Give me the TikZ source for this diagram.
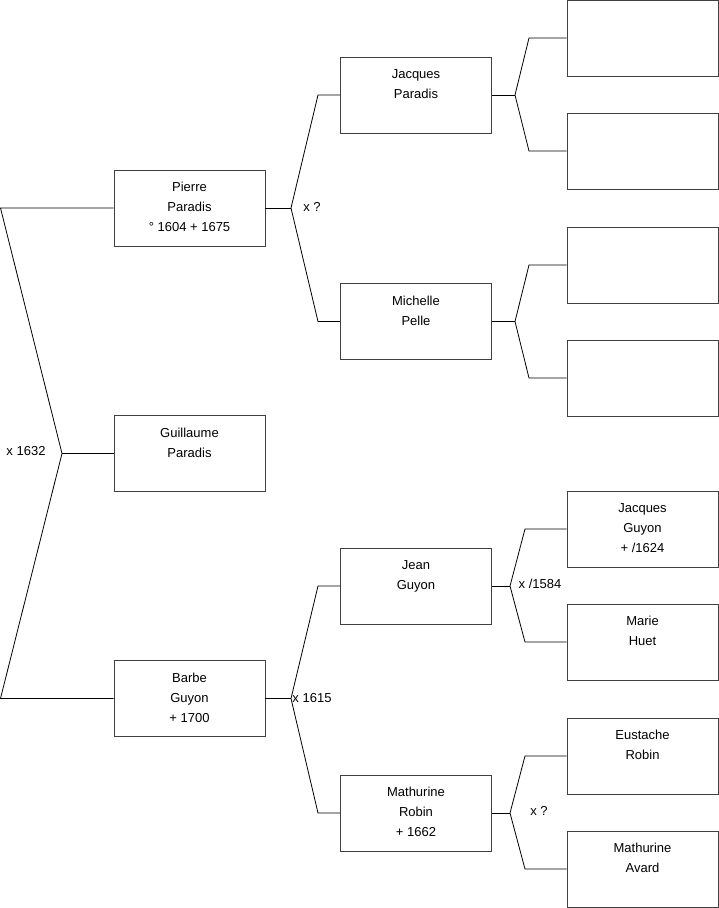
\documentclass[tikz,border=0pt]{standalone}
\usepackage{fontspec}
\setmainfont{Liberation Sans}
\tikzset{
    person/.style={draw=black!75, line width=0.9pt, minimum width=151pt, minimum height=76pt, inner sep=0pt},
    personname/.style={anchor=north, inner sep=0pt, align=center, font=\fontsize{13}{20}\selectfont},
    link/.style={line width=0.8pt},
    union/.style={font=\fontsize{13}{15}\selectfont},
}
\begin{document}
\begin{tikzpicture}[x=1pt, y=-1pt]
    \useasboundingbox (0,0) rectangle (719,908);
    % generation 1
    \node[person] (pierre) at (189.5,208) {};
    \node[personname] (pierreT) at ([yshift=-12.5pt]pierre.north) {Pierre\\Paradis\\° 1604 + 1675};
    \node[person] (guillaume) at (189.5,453.5) {};
    \node[personname] (guillaumeT) at ([yshift=-12.5pt]guillaume.north) {Guillaume\\Paradis};
    \node[person] (barbe) at (189.5,698.5) {};
    \node[personname] (barbeT) at ([yshift=-12.5pt]barbe.north) {Barbe\\Guyon\\+ 1700};
    % generation 2
    \node[person] (jacquesP) at (416,95) {};
    \node[personname] (jacquesPT) at ([yshift=-12.5pt]jacquesP.north) {Jacques\\Paradis};
    \node[person] (michelle) at (416,321.5) {};
    \node[personname] (michelleT) at ([yshift=-12.5pt]michelle.north) {Michelle\\Pelle};
    \node[person] (jean) at (416,586) {};
    \node[personname] (jeanT) at ([yshift=-12.5pt]jean.north) {Jean\\Guyon};
    \node[person] (mathurineR) at (416,813) {};
    \node[personname] (mathurineRT) at ([yshift=-12.5pt]mathurineR.north) {Mathurine\\Robin\\+ 1662};
    % generation 3
    \node[person] (p1) at (642.5,38) {};
    \node[person] (p2) at (642.5,151) {};
    \node[person] (p3) at (642.5,265) {};
    \node[person] (p4) at (642.5,378) {};
    \node[person] (jacquesG) at (642.5,529) {};
    \node[personname] (jacquesGT) at ([yshift=-12.5pt]jacquesG.north) {Jacques\\Guyon\\+ /1624};
    \node[person] (marie) at (642.5,642) {};
    \node[personname] (marieT) at ([yshift=-12.5pt]marie.north) {Marie\\Huet};
    \node[person] (eustache) at (642.5,756) {};
    \node[personname] (eustacheT) at ([yshift=-12.5pt]eustache.north) {Eustache\\Robin};
    \node[person] (mathurineA) at (642.5,869) {};
    \node[personname] (mathurineAT) at ([yshift=-12.5pt]mathurineA.north) {Mathurine\\Avard};

    % root fork
    \coordinate (r1) at (0.5,208);
    \coordinate (r0) at (62,453.5);
    \coordinate (r2) at (0.5,698.5);
    \draw[link] (pierre.west) -- (r1) -- (r0) -- (r2) -- (barbe.west);
    \draw[link] (r0) -- (guillaume.west);
    \node[union] (u1) at (26,451) {x 1632};

    % forks to parents
    \foreach \child/\up/\down/\jx/\bx in {pierre/jacquesP/michelle/291/318, barbe/jean/mathurineR/291/318,
        jacquesP/p1/p2/515/529, michelle/p3/p4/515/529,
        jean/jacquesG/marie/510/525, mathurineR/eustache/mathurineA/510/525}{
        \coordinate (\child J) at (\jx,0 |- \child.east);
        \draw[link] (\child.east) -- (\child J);
        \draw[link] (\child J) -- (\bx,0 |- \up.west) -- (\up.west);
        \draw[link] (\child J) -- (\bx,0 |- \down.west) -- (\down.west);
    }
    \node[union] (u2) at (312,207) {x ?};
    \node[union] (u3) at (312,698) {x 1615};
    \node[union] (u4) at (540,584) {x /1584};
    \node[union] (u5) at (539,811) {x ?};
\end{tikzpicture}
\end{document}
